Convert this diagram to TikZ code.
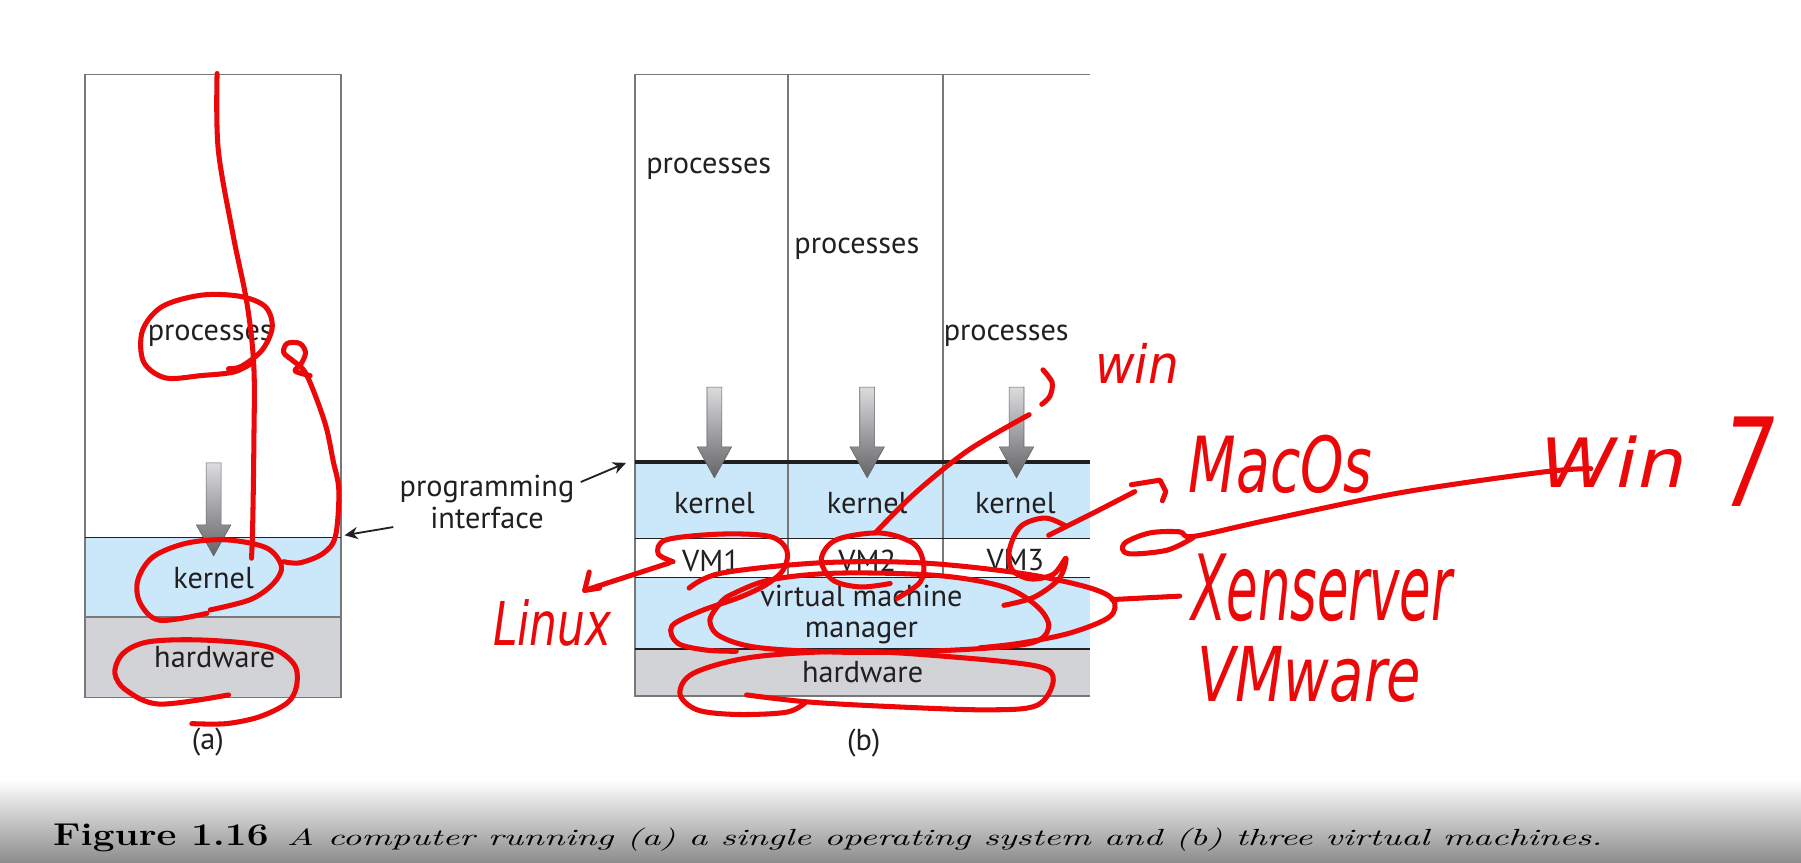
\documentclass[tikz,border=0pt]{standalone}
\usepackage{fontspec}
\setsansfont{PT Sans}
\newfontfamily\handfont{DejaVu Sans}
\usetikzlibrary{arrows.meta}

\definecolor{kernblue}{RGB}{203,232,250}
\definecolor{hwgray}{RGB}{210,211,215}
\definecolor{edgegray}{RGB}{120,120,122}
\definecolor{txt}{RGB}{35,31,32}
\definecolor{ink}{RGB}{236,8,8}
\definecolor{captgray}{RGB}{140,140,140}
\definecolor{arrtop}{RGB}{220,220,222}
\definecolor{arrbot}{RGB}{100,100,103}

\newcommand{\procarrow}[3]{\shade[top color=arrtop, bottom color=arrbot, draw=arrbot, line width=0.3pt] ({#1-6.5},#2) -- ({#1+6.5},#2) -- ({#1+6.5},{#3-27}) -- ({#1+15},{#3-27}) -- (#1,#3) -- ({#1-15},{#3-27}) -- ({#1-6.5},{#3-27}) -- cycle;}
\newcommand{\hand}[3]{\resizebox{#1}{#2}{\handfont\itshape #3}}

\tikzset{
  lbl/.style={font=\sffamily\fontsize{15}{15.5}\selectfont, text=txt, inner sep=0pt},
  ink/.style={draw=ink, line width=2.5pt, line cap=round, line join=round},
  inktext/.style={text=ink, inner sep=0pt},
  ptr/.style={-{Stealth[length=6.5pt,width=6pt]}, line width=0.9pt, txt},
}

\begin{document}
\begin{tikzpicture}[x=0.02cm, y=-0.02cm]
\fill[white] (0,0) rectangle (1568,751);
\useasboundingbox (0,0) rectangle (1568,751);
\shade[top color=white, bottom color=captgray] (0,679) rectangle (1568,751);

% panel (a)
\fill[kernblue] (74,468) rectangle (297,537);
\fill[hwgray] (74,537) rectangle (297,607);
\draw[edgegray, line width=0.7pt] (74,65) rectangle (297,607);
\draw[edgegray, line width=0.7pt] (74,537) -- (297,537);
\draw[txt, line width=0.8pt] (74,468) -- (297,468);
\procarrow{186}{403}{484}
\node[lbl] (procA) at (183,292) {processes};
\node[lbl] (kernA) at (186,503) {kernel};
\node[lbl] (hwA) at (187,572) {hardware};
\node[lbl] (capA) at (181,646) {(a)};
\coordinate (ifA) at (300,466);

% panel (b)
\fill[kernblue] (553,402) rectangle (949,469);
\fill[kernblue] (553,503) rectangle (949,565);
\fill[hwgray] (553,565) rectangle (949,606);
\draw[edgegray, line width=0.7pt] (949,65) -- (553,65) -- (553,606) -- (949,606);
\draw[edgegray, line width=0.7pt] (686,65) -- (686,503) (821,65) -- (821,503);
\draw[txt, line width=0.7pt] (553,469) -- (949,469) (553,503) -- (949,503) (553,565) -- (949,565);
\draw[txt, line width=2pt] (553,402) -- (949,402);
\procarrow{622}{337}{416}
\procarrow{755}{337}{416}
\procarrow{885}{337}{416}
\node[lbl] (procB1) at (617,147) {processes};
\node[lbl] (procB2) at (746,217) {processes};
\node[lbl] (procB3) at (876,292) {processes};
\node[lbl] (kernB1) at (622,438) {kernel};
\node[lbl] (kernB2) at (755,438) {kernel};
\node[lbl] (kernB3) at (884,438) {kernel};
\node[lbl] (vm1) at (619,488) {VM1};
\node[lbl] (vm2) at (755,488) {VM2};
\node[lbl] (vm3) at (884,488) {VM3};
\node[lbl, align=center] (vmm) at (750,535) {virtual machine\\manager};
\node[lbl] (hwB) at (751,585) {hardware};
\node[lbl] (capB) at (752,647) {(b)};
\coordinate (ifB) at (545,403);

% programming interface
\node[lbl, align=center, inner sep=3pt] (progif) at (424,437) {programming\\interface};
\draw[ptr] (progif.195) -- (ifA);
\draw[ptr] (progif.12) -- (ifB);

% caption
\node[anchor=base west, inner sep=0pt] (caption) at (46,736) {\resizebox{26.98cm}{0.374cm}{\scalebox{0.78}[1]{\fontsize{13.5}{16}\selectfont\bfseries Figure 1.16}\hspace{0.5em}{\fontsize{10}{12}\selectfont\itshape A computer running (a) a single operating system and (b) three virtual machines.}}};

% red ink, panel (a)
\draw[ink] plot[smooth, tension=0.55] coordinates {(189,64) (190,130) (203,205) (215,264) (221,319) (221,388) (220,457) (219,486)};
\draw[ink] plot[smooth, tension=0.55] coordinates {(199,321) (210,319) (228,305) (237,285) (231,267) (209,258) (175,257) (141,267) (124,288) (125,315) (144,329) (175,327) (203,324) (218,317)};
\draw[ink] plot[smooth, tension=0.55] coordinates {(247,489) (261,490) (281,482) (292,467) (295,427) (290,401) (284,372) (274,343) (265,323) (255,314) (247,307) (250,299) (261,299) (266,307) (262,317) (257,323) (270,327)};
\draw[ink] plot[smooth, tension=0.55] coordinates {(180,534) (139,540) (122,525) (120,505) (133,485) (162,473) (197,470) (232,477) (245,493) (238,508) (218,522) (183,531)};
\draw[ink] plot[smooth, tension=0.55] coordinates {(199,605) (139,613) (110,601) (100,586) (107,569) (128,559) (168,557) (215,560) (241,566) (257,580) (258,598) (250,612) (226,624) (197,630) (167,630)};

% red ink, panel (b)
\draw[ink] plot[smooth, tension=0.55] coordinates {(586,489) (573,482) (580,470) (627,465) (670,467) (685,479) (682,496) (667,509) (644,520) (610,532) (585,545) (590,560) (615,566) (641,567)};
\draw[ink] plot[smooth, tension=0.55] coordinates {(627,525) (618,540) (627,554) (662,564) (743,568) (830,566) (897,560) (913,546) (903,528) (874,511) (816,501) (728,499) (670,505) (636,518) (627,525)};
\draw[ink] plot[smooth, tension=0.55] coordinates {(600,512) (628,499) (714,490) (801,490) (888,499) (946,511) (969,522) (966,537) (932,551) (888,560) (853,564)};
\draw[ink] plot[smooth, tension=0.55] coordinates {(781,521) (801,507) (804,490) (795,473) (766,464) (728,470) (715,487) (725,505) (749,511) (775,508)};
\draw[ink] plot[smooth, tension=0.55] coordinates {(762,464) (797,429) (843,392) (896,361)};
\draw[ink] plot[smooth, tension=0.55] coordinates {(928,458) (910,451) (889,458) (879,478) (881,496) (897,504) (917,500) (928,486) (922,504) (900,520) (874,527)};
\draw[ink] plot[smooth, tension=0.55] coordinates {(650,605) (702,611) (772,615) (859,618) (903,614) (917,592) (903,580) (830,572) (743,567) (656,572) (604,586) (592,604) (607,618) (641,622) (685,620) (702,611)};
\draw[ink] plot[smooth, tension=0.55] coordinates {(908,322) (916,333) (914,345) (907,352)};

% red notes
\node[inktext] (linux) at (481,542) {\hand{2.06cm}{0.8cm}{Linux}};
\draw[ink] (583,490) -- (509,514);
\draw[ink] (513,498) -- (509,514) -- (522,512);
\node[inktext] (win) at (990,316) {\hand{1.46cm}{0.7cm}{win}};
\node[inktext] (macos) at (1115,404) {\hand{3.2cm}{1.0cm}{MacOs}};
\draw[ink] (913,466) -- (955,445) -- (988,428);
\draw[ink] (985,422) -- (1010,418) -- (1015,428) -- (1012,436);
\node[inktext] (win7) at (1405,402) {\hand{2.54cm}{0.9cm}{Win}};
\node[inktext] (seven) at (1523,402) {\hand{0.88cm}{1.56cm}{7}};
\draw[ink] plot[smooth, tension=0.55] coordinates {(1385,408) (1343,411) (1219,429) (1103,453) (1039,467) (1027,463) (1001,464) (979,473) (982,482) (1016,479) (1039,468)};
\node[inktext] (xen) at (1151,512) {\hand{4.54cm}{1.16cm}{Xenserver}};
\node[inktext] (vmware) at (1140,587) {\hand{3.9cm}{0.96cm}{VMware}};
\draw[ink] (968,522) -- (1027,519);

\end{tikzpicture}
\end{document}
